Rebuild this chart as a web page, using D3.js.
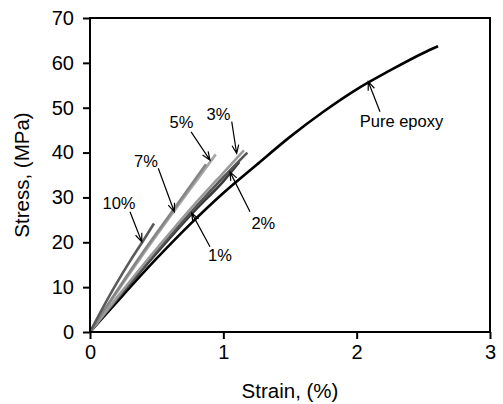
<!DOCTYPE html>
<html>
<head>
<meta charset="utf-8">
<script src="https://cdn.jsdelivr.net/npm/d3@7"></script>
<style>
  body { margin: 0; background: #fff; }
  svg text { font-family: "Liberation Sans", Arial, sans-serif; fill: #000; }
</style>
</head>
<body>
<svg id="chart" width="503" height="404"></svg>
<script>
// strain (%) / stress (MPa)
const epoxyStrain = [0, 0.25, 0.5, 0.75, 1.0, 1.25, 1.5, 1.75, 2.0, 2.25, 2.5, 2.61];
const epoxyStress = [0, 8.3, 16.4, 24.0, 31.0, 37.3, 43.5, 49.1, 54.1, 58.3, 62.2, 63.7];

const p1Strain = [0, 0.2, 0.4, 0.6, 0.8, 1.0, 1.12];
const p1Stress = [0, 7.2, 14.2, 21.0, 27.5, 33.6, 37.9];
const p2Strain = [0, 0.2, 0.4, 0.6, 0.8, 1.0, 1.18];
const p2Stress = [0, 7.3, 14.5, 21.4, 28.1, 34.5, 40.0];
const p3Strain = [0, 0.2, 0.4, 0.6, 0.8, 1.0, 1.155];
const p3Stress = [0, 7.6, 15.0, 22.1, 29.0, 35.5, 40.5];
const p5Strain = [0, 0.2, 0.4, 0.6, 0.8, 0.943];
const p5Stress = [0, 8.8, 17.4, 25.7, 33.8, 39.6];
const p7Strain = [0, 0.2, 0.4, 0.6, 0.87];
const p7Stress = [0, 9.1, 17.9, 26.2, 37.4];
const p10Strain = [0, 0.1, 0.2, 0.3, 0.4, 0.48];
const p10Stress = [0, 5.6, 10.9, 15.8, 20.4, 24.2];

const xTicks = [0, 1, 2, 3];
const yTicks = [0, 10, 20, 30, 40, 50, 60, 70];

// label text, text anchor point, arrow tail and arrow tip (data units)
const labels = ["10%", "7%", "5%", "3%", "2%", "1%", "Pure epoxy"];
const labelAt = [[0.2175, 27.4], [0.42, 36.8], [0.686, 45.5], [0.964, 47.3], [1.30, 23.0], [0.975, 15.8], [2.336, 45.7]];
const arrowFrom = [[0.30, 26.8], [0.512, 36.5], [0.758, 44.6], [1.063, 46.9], [1.20, 26.8], [0.90, 19.0], [2.175, 49.1]];
const arrowTo = [[0.388, 20.1], [0.632, 26.8], [0.90, 38.3], [1.10, 39.8], [1.05, 35.7], [0.763, 26.5], [2.087, 55.8]];

const svg = d3.select("#chart");
const margin = { top: 18, right: 13, bottom: 72, left: 90 };
const width = 503 - margin.left - margin.right;
const height = 404 - margin.top - margin.bottom;

const x = d3.scaleLinear().domain([0, 3]).range([0, width]);
const y = d3.scaleLinear().domain([0, 70]).range([height, 0]);

const g = svg.append("g").attr("transform", `translate(${margin.left},${margin.top})`);

// curves, drawn back to front
const series = [
    { xs: epoxyStrain, ys: epoxyStress, color: "#000", w: 2.6 },
    { xs: p1Strain, ys: p1Stress, color: "#3a3a3a", w: 2.6 },
    { xs: p2Strain, ys: p2Stress, color: "#555", w: 2.6 },
    { xs: p3Strain, ys: p3Stress, color: "#9a9a9a", w: 2.6 },
    { xs: p5Strain, ys: p5Stress, color: "#a6a6a6", w: 2.6 },
    { xs: p7Strain, ys: p7Stress, color: "#858585", w: 2.6 },
    { xs: p10Strain, ys: p10Stress, color: "#5a5a5a", w: 2.6 }
];

const line = d3.line().x(d => x(d[0])).y(d => y(d[1])).curve(d3.curveMonotoneX);

g.selectAll(".curve")
    .data(series)
    .join("path")
    .attr("class", "curve")
    .attr("fill", "none")
    .attr("stroke", d => d.color)
    .attr("stroke-width", d => d.w)
    .attr("stroke-linecap", "butt")
    .attr("d", d => line(d3.zip(d.xs, d.ys)));

// frame
g.append("rect")
    .attr("width", width).attr("height", height)
    .attr("fill", "none").attr("stroke", "#000").attr("stroke-width", 2);

// axes
const xAxis = g.append("g")
    .attr("transform", `translate(0,${height})`)
    .call(d3.axisBottom(x).tickValues(xTicks).tickSize(7).tickPadding(6).tickFormat(d3.format("d")));
const yAxis = g.append("g")
    .call(d3.axisLeft(y).tickValues(yTicks).tickSize(7).tickPadding(9).tickFormat(d3.format("d")));

[xAxis, yAxis].forEach(a => {
    a.select(".domain").remove();
    a.selectAll(".tick line").attr("stroke", "#000").attr("stroke-width", 2);
    a.selectAll(".tick text").attr("font-size", 20).attr("fill", "#000")
        .style("font-family", '"Liberation Sans", Arial, sans-serif');
});

// axis titles
svg.append("text")
    .attr("x", margin.left + width / 2).attr("y", 398)
    .attr("text-anchor", "middle").attr("font-size", 20.5)
    .text("Strain, (%)");
svg.append("text")
    .attr("transform", `translate(29,${margin.top + height / 2}) rotate(-90)`)
    .attr("text-anchor", "middle").attr("font-size", 20.5)
    .text("Stress, (MPa)");

// annotations with open arrowheads
const ann = g.append("g");
labels.forEach((t, i) => {
    const [x0, y0] = [x(arrowFrom[i][0]), y(arrowFrom[i][1])];
    const [x1, y1] = [x(arrowTo[i][0]), y(arrowTo[i][1])];
    const ang = Math.atan2(y1 - y0, x1 - x0);
    const len = 9, spread = 0.38;
    const hx1 = x1 - len * Math.cos(ang - spread), hy1 = y1 - len * Math.sin(ang - spread);
    const hx2 = x1 - len * Math.cos(ang + spread), hy2 = y1 - len * Math.sin(ang + spread);

    ann.append("path")
        .attr("d", `M${x0},${y0}L${x1},${y1}M${hx1},${hy1}L${x1},${y1}L${hx2},${hy2}`)
        .attr("fill", "none").attr("stroke", "#000").attr("stroke-width", 1.2);

    ann.append("text")
        .attr("x", x(labelAt[i][0])).attr("y", y(labelAt[i][1]))
        .attr("text-anchor", "middle").attr("font-size", 16.5)
        .text(t);
});
</script>
</body>
</html>
